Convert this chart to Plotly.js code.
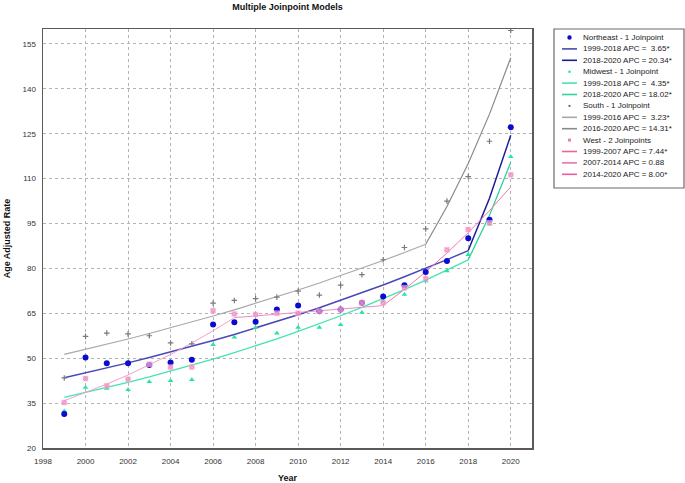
<!DOCTYPE html>
<html>
<head>
<meta charset="utf-8">
<script src="https://cdn.plot.ly/plotly-3.0.1.min.js"></script>
<style>html,body{margin:0;padding:0;background:#fff;}#chart{width:685px;height:483px;}</style>
</head>
<body>
<div id="chart"></div>
<script>
// ---- data ----
const years = [1999,2000,2001,2002,2003,2004,2005,2006,2007,2008,2009,2010,2011,2012,2013,2014,2015,2016,2017,2018,2019,2020];

const northeastObs = [31.4,50.2,48.3,48.3,47.7,48.6,49.5,61.3,62.0,62.2,66.3,67.6,65.7,66.3,68.5,70.6,74.4,78.8,82.5,90.1,96.3,127.2];
const midwestObs   = [32.4,40.2,39.9,39.5,42.1,42.5,42.8,54.5,57.0,60.3,58.3,60.3,60.3,61.2,65.3,69.0,71.3,75.8,79.1,84.6,94.8,117.3];
const southObs     = [43.4,57.3,58.4,58.1,57.5,55.1,54.8,68.4,69.3,69.9,70.4,72.4,71.1,74.4,77.9,82.9,87.0,93.2,102.5,110.7,122.5,159.5];
const westObs      = [35.2,43.2,40.8,43.0,48.0,47.0,47.1,65.9,64.8,64.6,65.0,65.0,65.7,66.3,68.5,68.5,73.5,76.6,86.2,93.0,95.2,111.3];

const northeastFit = [43.50,45.09,46.73,48.44,50.21,52.04,53.94,55.91,57.95,60.07,62.26,64.53,66.88,69.33,71.86,74.48,77.20,80.01,82.93,85.96,103.45,124.49];
const midwestFit   = [36.90,38.51,40.18,41.93,43.75,45.66,47.64,49.71,51.88,54.13,56.49,58.95,61.51,64.19,66.98,69.89,72.93,76.10,79.41,82.87,97.80,115.43];
const southFit     = [51.30,52.96,54.67,56.43,58.26,60.14,62.08,64.09,66.16,68.29,70.50,72.78,75.13,77.55,80.06,82.64,85.31,88.07,100.67,115.08,131.55,150.37];
const westFit      = [35.80,38.46,41.33,44.40,47.70,51.25,55.07,59.16,63.56,64.12,64.69,65.26,65.83,66.41,67.00,67.58,72.99,78.83,85.14,91.95,99.30,107.25];

const northeastSegments = [[1999,2018],[2018,2020]];
const midwestSegments   = [[1999,2018],[2018,2020]];
const southSegments     = [[1999,2016],[2016,2020]];
const westSegments      = [[1999,2007],[2007,2014],[2014,2020]];

const legendLabels = [
  "Northeast - 1 Joinpoint",
  "1999-2018 APC =\u00a0\u00a03.65*",
  "2018-2020 APC = 20.34*",
  "Midwest - 1 Joinpoint",
  "1999-2018 APC =\u00a0\u00a04.35*",
  "2018-2020 APC = 18.02*",
  "South - 1 Joinpoint",
  "1999-2016 APC =\u00a0\u00a03.23*",
  "2016-2020 APC = 14.31*",
  "West - 2 Joinpoints",
  "1999-2007 APC = 7.44*",
  "2007-2014 APC = 0.88",
  "2014-2020 APC = 8.00*"
];

// ---- styles ----
const FONT = "Liberation Sans, Arial, sans-serif";
const regions = [
  {name:"Northeast", obs:northeastObs, fit:northeastFit, seg:northeastSegments,
   marker:{symbol:"circle", size:6, color:"#0a0ad0"}, lineColors:["#4848b8","#1c1c98"], lw:1.5},
  {name:"Midwest", obs:midwestObs, fit:midwestFit, seg:midwestSegments,
   marker:{symbol:"triangle-up", size:5, color:"#22e6a4"}, lineColors:["#44e4b0","#30d29e"], lw:1.3},
  {name:"South", obs:southObs, fit:southFit, seg:southSegments,
   marker:{symbol:"cross-thin", size:4, color:"#7a7a7a", line:{width:1.2, color:"#7a7a7a"}}, lineColors:["#a8a8a8","#8a8a8a"], lw:1.2},
  {name:"West", obs:westObs, fit:westFit, seg:westSegments,
   marker:{symbol:"square-x", size:5, color:"#e880bc", opacity:0.85, line:{width:0.6,color:"#ffc0e0"}}, lineColors:["#f2a2cc","#ec8cc4","#f078ae"], lw:1}
];

const traces = [];
// fitted segments
regions.forEach(r => {
  r.seg.forEach((s, i) => {
    const xs = [], ys = [];
    years.forEach((y, k) => { if (y >= s[0] && y <= s[1]) { xs.push(y); ys.push(r.fit[k]); } });
    traces.push({x: xs, y: ys, type: "scatter", mode: "lines", showlegend: false, hoverinfo: "skip",
      line: {color: r.lineColors[i], width: r.lw}});
  });
});
// observed points (south, midwest, northeast, west on top)
[2,1,0,3].forEach(i => {
  const r = regions[i];
  traces.push({x: years, y: r.obs, type: "scatter", mode: "markers", showlegend: false,
    name: r.name, marker: r.marker});
});

// ---- plot geometry (px) ----
const W = 685, H = 483, L = 43, R = 532, T = 29, B = 448;
const px2x = p => (p - L) / (R - L);
const px2y = p => (B - p) / (B - T);

// ---- manual legend ----
const shapes = [];
const annotations = [];
shapes.push({type:"rect", xref:"paper", yref:"paper", x0:px2x(554), x1:px2x(684), y0:px2y(29), y1:px2y(188),
  line:{color:"#6a6a6a", width:1.2}, fillcolor:"#ffffff", layer:"below"});
const legY0 = 37.5, legDy = 11.4, symX0 = 562, symX1 = 577, symC = 569.5, textX = 581;
const legendLineColors = [null, regions[0].lineColors[0], regions[0].lineColors[1],
  null, regions[1].lineColors[0], regions[1].lineColors[1],
  null, regions[2].lineColors[0], regions[2].lineColors[1],
  null, "#f0649e", "#ee6fae", "#f25aa0"];
legendLabels.forEach((t, i) => {
  const yy = legY0 + i * legDy;
  annotations.push({xref:"paper", yref:"paper", x:px2x(textX), y:px2y(yy), xanchor:"left", yanchor:"middle",
    text:t, showarrow:false, font:{family:FONT, size:8, color:"#222"}});
  if (legendLineColors[i]) {
    shapes.push({type:"line", xref:"paper", yref:"paper", x0:px2x(symX0), x1:px2x(symX1), y0:px2y(yy), y1:px2y(yy),
      line:{color:legendLineColors[i], width:1.6}});
  }
});
// legend marker glyphs
const mk = (i, col, r, kind) => {
  const yy = legY0 + i * legDy;
  if (kind === "circle") {
    shapes.push({type:"circle", xref:"paper", yref:"paper", x0:px2x(symC-r), x1:px2x(symC+r), y0:px2y(yy+r), y1:px2y(yy-r),
      fillcolor:col, line:{width:0}});
  } else {
    shapes.push({type:"rect", xref:"paper", yref:"paper", x0:px2x(symC-r), x1:px2x(symC+r), y0:px2y(yy+r), y1:px2y(yy-r),
      fillcolor:col, line:{width:0}});
  }
};
mk(0, "#0a0ad0", 2.2, "circle");
mk(3, "#22e6a4", 1.3, "circle");
mk(6, "#6a6a6a", 1.0, "rect");
mk(9, "#e880bc", 1.5, "rect");

const gridStyle = {showgrid:true, gridcolor:"#b4b4b4", griddash:"dot", gridwidth:1,
  showline:true, mirror:true, linecolor:"#5a5a5a", linewidth:1.5, zeroline:false,
  ticks:"", tickfont:{family:FONT, size:8, color:"#333"}};

const layout = {
  width: W, height: H,
  margin: {l: L, r: W - R, t: T, b: H - B, pad: 0},
  paper_bgcolor: "#fff", plot_bgcolor: "#fff",
  title: {text: "<b>Multiple Joinpoint Models</b>", font: {family: FONT, size: 9, color: "#111"},
    xref: "paper", x: 0.5, xanchor: "center", yref: "container", y: 1 - 7/H, yanchor: "middle"},
  xaxis: Object.assign({}, gridStyle, {range: [1998, 2021], tick0: 1998, dtick: 2,
    ticklabelstandoff: 5,
    title: {text: "<b>Year</b>", font: {family: FONT, size: 9, color: "#111"}, standoff: 10}}),
  yaxis: Object.assign({}, gridStyle, {range: [20, 160], tick0: 20, dtick: 15,
    ticklabelstandoff: 4,
    title: {text: "<b>Age Adjusted Rate</b>", font: {family: FONT, size: 9, color: "#111"}, standoff: 10}}),
  shapes: shapes,
  annotations: annotations,
  showlegend: false
};

Plotly.newPlot("chart", traces, layout, {staticPlot: true, displayModeBar: false});
</script>
</body>
</html>
